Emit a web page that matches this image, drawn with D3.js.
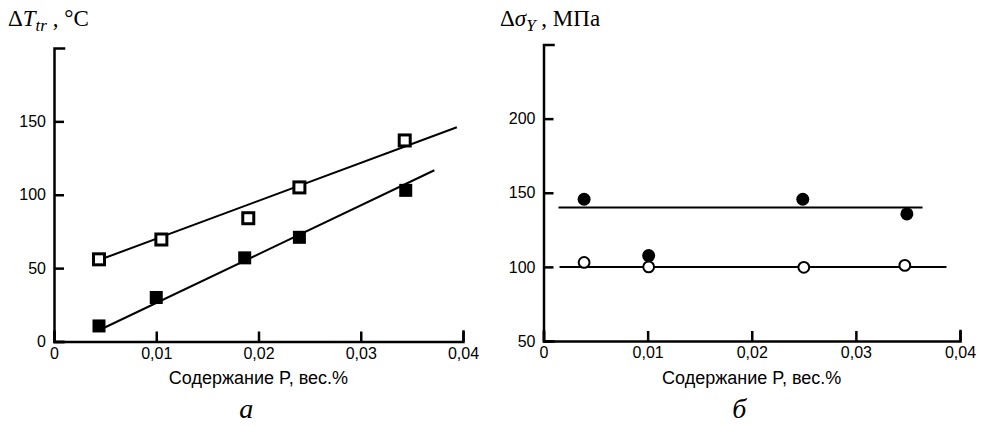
<!DOCTYPE html>
<meta charset="utf-8">
<style>
html, body { margin: 0; background: white; }
svg { display: block; }
.axis path, .axis line { stroke: #000; stroke-width: 2.5px; }
.axis text { font-family: "Liberation Sans", Arial, sans-serif; font-size: 16px; fill: #000; }
.xlabel { font-family: "Liberation Sans", Arial, sans-serif; font-size: 18px; }
.ytitle { font-family: "Liberation Serif", "Times New Roman", serif; font-size: 23px; }
.panel { font-family: "Liberation Serif", "Times New Roman", serif; font-size: 28px; font-style: italic; }
.fit { stroke: #000; stroke-width: 2px; fill: none; }
</style>
<body>
<script src="https://d3js.org/d3.v7.min.js"></script>
<script>

var width = 981,
    height = 426;

// shared x ticks (P content, wt.%)
var xTicks = [0, 0.01, 0.02, 0.03, 0.04];

// panel a: shift of transition temperature
var aYTicks = [0, 50, 100, 150];
var aOpenX = [0.0044, 0.0105, 0.019, 0.0240, 0.0343];
var aOpenY = [56, 69.5, 84, 105, 137];
var aFillX = [0.0044, 0.0100, 0.01865, 0.0240, 0.0344];
var aFillY = [10.6, 30, 57, 71, 103];
var aOpenFitX = [0.0044, 0.0394];
var aOpenFitY = [55.5, 146];
var aFillFitX = [0.0045, 0.0372];
var aFillFitY = [8, 116.7];

// panel б: yield strength change
var bYTicks = [50, 100, 150, 200];
var bFillX = [0.0039, 0.0101, 0.0249, 0.0349];
var bFillY = [145.6, 107.6, 145.6, 135.7];
var bOpenX = [0.0039, 0.0101, 0.0250, 0.0347];
var bOpenY = [103, 100, 99.7, 101];
var bUpperFitX = [0.00144, 0.0364];
var bUpperFitY = [140, 140];
var bLowerFitX = [0.00154, 0.0387];
var bLowerFitY = [100, 100];

var svg = d3.select("body").append("svg")
    .attr("width", width)
    .attr("height", height);

var fmtX = function(d) { return d === 0 ? "0" : d.toFixed(2).replace(".", ","); };

function panel(opts) {
  var x = d3.scaleLinear().domain([0, 0.04]).range([opts.x0, opts.x1]);
  var y = d3.scaleLinear().domain(opts.yDomain).range([opts.y0, opts.y1]);
  var g = svg.append("g");

  g.append("g")
      .attr("class", "axis")
      .attr("transform", "translate(0," + opts.y0 + ")")
      .call(d3.axisBottom(x).tickValues(xTicks).tickFormat(fmtX)
        .tickSizeInner(-10).tickSizeOuter(-10).tickPadding(6))
      .selectAll("text").attr("dy", "0.71em");

  g.append("g")
      .attr("class", "axis")
      .attr("transform", "translate(" + opts.x0 + ",0)")
      .call(d3.axisLeft(y).tickValues(opts.yTicks)
        .tickSizeInner(-10).tickSizeOuter(-10).tickPadding(8));

  g.selectAll(".axis path").attr("stroke-linecap", "square");

  g.append("text")
      .attr("class", "xlabel")
      .attr("x", x(0.02))
      .attr("y", 384)
      .attr("text-anchor", "middle")
      .text("Содержание P, вес.%");

  g.append("text")
      .attr("class", "panel")
      .attr("x", x(0.0188))
      .attr("y", 418)
      .attr("text-anchor", "middle")
      .text(opts.letter);

  return { g: g, x: x, y: y };
}

function fitLine(p, xs, ys) {
  p.g.append("line")
      .attr("class", "fit")
      .attr("x1", p.x(xs[0])).attr("y1", p.y(ys[0]))
      .attr("x2", p.x(xs[1])).attr("y2", p.y(ys[1]));
}

// ---- panel a
var pa = panel({ x0: 54, x1: 463, y0: 341.5, y1: 48, yDomain: [0, 200], yTicks: aYTicks, letter: "а" });

fitLine(pa, aOpenFitX, aOpenFitY);
fitLine(pa, aFillFitX, aFillFitY);

pa.g.selectAll(".open").data(d3.range(aOpenX.length)).enter().append("rect")
    .attr("x", function(i) { return pa.x(aOpenX[i]) - 5.5; })
    .attr("y", function(i) { return pa.y(aOpenY[i]) - 5.5; })
    .attr("width", 11).attr("height", 11)
    .attr("fill", "#fff").attr("stroke", "#000").attr("stroke-width", 3);

pa.g.selectAll(".filled").data(d3.range(aFillX.length)).enter().append("rect")
    .attr("x", function(i) { return pa.x(aFillX[i]) - 6.5; })
    .attr("y", function(i) { return pa.y(aFillY[i]) - 6.5; })
    .attr("width", 13).attr("height", 13)
    .attr("fill", "#000");

var ta = svg.append("text").attr("class", "ytitle").attr("x", 8).attr("y", 26);
ta.append("tspan").text("Δ");
ta.append("tspan").attr("font-style", "italic").text("T");
ta.append("tspan").attr("font-style", "italic").attr("font-size", "17px").attr("dy", 5).text("tr");
ta.append("tspan").attr("dy", -5).text(" , °C");

// ---- panel б
var pb = panel({ x0: 543.5, x1: 960, y0: 341, y1: 44.5, yDomain: [50, 250], yTicks: bYTicks, letter: "б" });

fitLine(pb, bUpperFitX, bUpperFitY);
fitLine(pb, bLowerFitX, bLowerFitY);

pb.g.selectAll(".open").data(d3.range(bOpenX.length)).enter().append("circle")
    .attr("cx", function(i) { return pb.x(bOpenX[i]); })
    .attr("cy", function(i) { return pb.y(bOpenY[i]); })
    .attr("r", 5.4)
    .attr("fill", "#fff").attr("stroke", "#000").attr("stroke-width", 2);

pb.g.selectAll(".filled").data(d3.range(bFillX.length)).enter().append("circle")
    .attr("cx", function(i) { return pb.x(bFillX[i]); })
    .attr("cy", function(i) { return pb.y(bFillY[i]); })
    .attr("r", 6.5)
    .attr("fill", "#000");

var tb = svg.append("text").attr("class", "ytitle").attr("x", 500).attr("y", 26);
tb.append("tspan").text("Δ");
tb.append("tspan").attr("font-style", "italic").text("σ");
tb.append("tspan").attr("font-style", "italic").attr("font-size", "17px").attr("dy", 5).text("Y");
tb.append("tspan").attr("dy", -5).text(" , МПа");

</script>
</body>
